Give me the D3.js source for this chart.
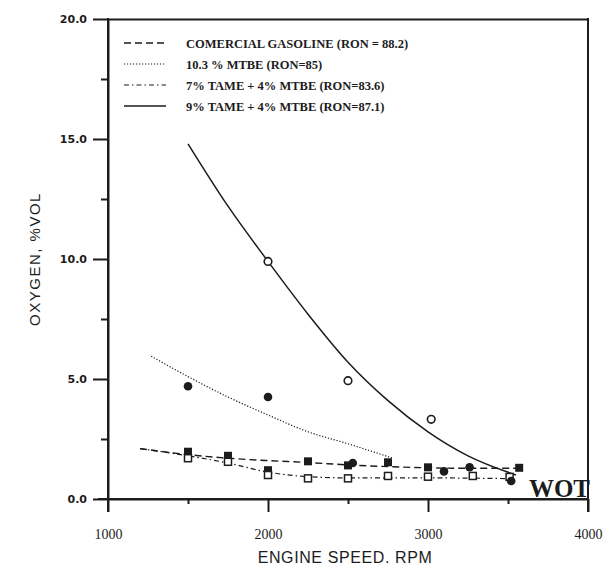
<!DOCTYPE html>
<html>
<head>
<meta charset="utf-8">
<script src="https://cdn.jsdelivr.net/npm/d3@7"></script>
<style>
  html, body { margin: 0; padding: 0; background: #fff; }
  svg { display: block; }
</style>
</head>
<body>
<div id="chart"></div>
<script>
// Exhaust oxygen vs engine speed at wide-open throttle, four fuel blends.

const rpmTicks = [1000, 2000, 3000, 4000];
const rpmMinorTicks = [1500, 2500, 3500];
const oxygenTicks = [0, 5, 10, 15, 20];
const oxygenMinorTicks = [2.5, 7.5, 12.5, 17.5];

const seriesNames = [
  "COMERCIAL GASOLINE (RON = 88.2)",
  "10.3 % MTBE (RON=85)",
  "7% TAME + 4% MTBE (RON=83.6)",
  "9% TAME + 4% MTBE (RON=87.1)"
];

// measured points [rpm, oxygen %vol]
const gasolinePts = [[1500, 1.97], [1750, 1.8], [2000, 1.2], [2250, 1.57], [2500, 1.4], [2750, 1.53], [3000, 1.32], [3570, 1.3]];
const mtbePts = [[1500, 4.7], [2000, 4.25], [2530, 1.5], [3100, 1.15], [3260, 1.32], [3520, 0.75]];
const tame7Pts = [[1500, 1.7], [1750, 1.55], [2000, 1.0], [2250, 0.86], [2500, 0.86], [2750, 0.96], [3000, 0.93], [3280, 0.96], [3510, 0.92]];
const tame9Pts = [[2000, 9.9], [2500, 4.93], [3020, 3.32]];

// fitted trend curves [rpm, oxygen %vol]
const gasolineFit = [[1200, 2.1], [1500, 1.85], [1750, 1.7], [2000, 1.6], [2250, 1.52], [2500, 1.42], [2750, 1.35], [3000, 1.3], [3250, 1.28], [3570, 1.28]];
const mtbeFit = [[1270, 5.95], [1500, 5.1], [1750, 4.25], [2000, 3.5], [2250, 2.8], [2500, 2.3], [2780, 1.7]];
const tame7Fit = [[1200, 2.1], [1500, 1.8], [1750, 1.5], [2000, 1.12], [2250, 0.93], [2500, 0.88], [2750, 0.88], [3000, 0.88], [3250, 0.87], [3500, 0.85]];
const tame9Fit = [[1500, 14.8], [1750, 12.2], [2000, 9.9], [2250, 7.7], [2500, 5.7], [2750, 4.1], [3000, 2.8], [3250, 1.8], [3550, 1.0]];

const W = 607, H = 569;
const ink = "#1c1c1c";
const axisW = 2;
const plotL = 108, plotR = 588, plotT = 19, plotB = 499;

const x = d3.scaleLinear().domain([1000, 4000]).range([plotL, plotR]);
const y = d3.scaleLinear().domain([0, 20]).range([plotB, plotT]);

const svg = d3.select("#chart").append("svg")
  .attr("width", W).attr("height", H);

svg.append("rect").attr("width", W).attr("height", H).attr("fill", "#fff");

// line styles per series
const dashes = ["7,4", "1.2,1.8", "5,3,1.5,3", null];
const widths = [1.4, 1.2, 1.2, 1.5];
const fits = [gasolineFit, mtbeFit, tame7Fit, tame9Fit];

const curve = d3.line()
  .x(d => x(d[0])).y(d => y(d[1]))
  .curve(d3.curveMonotoneX);

fits.forEach((f, i) => {
  svg.append("path")
    .attr("d", curve(f))
    .attr("fill", "none")
    .attr("stroke", ink)
    .attr("stroke-width", widths[i])
    .attr("stroke-dasharray", dashes[i]);
});

// markers
const marks = svg.append("g");
marks.selectAll("rect.fsq").data(gasolinePts).join("rect")
  .attr("class", "fsq")
  .attr("x", d => x(d[0]) - 4).attr("y", d => y(d[1]) - 4)
  .attr("width", 8).attr("height", 8).attr("fill", ink);
marks.selectAll("rect.osq").data(tame7Pts).join("rect")
  .attr("class", "osq")
  .attr("x", d => x(d[0]) - 3.5).attr("y", d => y(d[1]) - 3.5)
  .attr("width", 7).attr("height", 7)
  .attr("fill", "#fff").attr("stroke", ink).attr("stroke-width", 1.5);
marks.selectAll("circle.fci").data(mtbePts).join("circle")
  .attr("class", "fci")
  .attr("cx", d => x(d[0])).attr("cy", d => y(d[1])).attr("r", 4.3)
  .attr("fill", ink);
marks.selectAll("circle.oci").data(tame9Pts).join("circle")
  .attr("class", "oci")
  .attr("cx", d => x(d[0])).attr("cy", d => y(d[1])).attr("r", 3.8)
  .attr("fill", "#fff").attr("stroke", ink).attr("stroke-width", 1.6);

// y axis (major ticks with labels, minor ticks without)
const yMajor = svg.append("g")
  .attr("transform", `translate(${plotL},0)`)
  .call(d3.axisLeft(y).tickValues(oxygenTicks).tickSize(15).tickSizeOuter(0)
    .tickPadding(6).tickFormat(d3.format(".1f")));
const yMinor = svg.append("g")
  .attr("transform", `translate(${plotL},0)`)
  .call(d3.axisLeft(y).tickValues(oxygenMinorTicks).tickSize(7).tickSizeOuter(0)
    .tickFormat(""));

// x axis
const xMajor = svg.append("g")
  .attr("transform", `translate(0,${plotB})`)
  .call(d3.axisBottom(x).tickValues(rpmTicks).tickSize(13).tickSizeOuter(0)
    .tickPadding(17).tickFormat(d3.format("d")));
const xMinor = svg.append("g")
  .attr("transform", `translate(0,${plotB})`)
  .call(d3.axisBottom(x).tickValues(rpmMinorTicks).tickSize(5).tickSizeOuter(0)
    .tickFormat(""));

// top and right borders from the same scales
const xTop = svg.append("g")
  .attr("transform", `translate(0,${plotT})`)
  .call(d3.axisTop(x).tickValues([]).tickSizeOuter(0));
const yRight = svg.append("g")
  .attr("transform", `translate(${plotR},0)`)
  .call(d3.axisRight(y).tickValues([]).tickSizeOuter(0));

[yMajor, yMinor, xMajor, xMinor, xTop, yRight].forEach(a => {
  a.select(".domain").attr("stroke", ink).attr("stroke-width", axisW);
  a.selectAll(".tick line").attr("stroke", ink).attr("stroke-width", axisW);
});
// axis lines run a little past the lower-left corner
xMajor.select(".domain").attr("d", `M${plotL - 10},0H${plotR}`);
yMajor.select(".domain").attr("d", `M0,${plotT - 1}V${plotB + 13}`);
yRight.select(".domain").attr("d", `M0,${plotT - 1}V${plotB + 13}`);

yMajor.selectAll(".tick text")
  .attr("font-family", "DejaVu Sans, sans-serif")
  .attr("font-size", 11).attr("font-weight", "bold")
  .attr("fill", ink);
xMajor.selectAll(".tick text")
  .attr("font-family", "Liberation Serif, serif")
  .attr("font-size", 14)
  .attr("fill", ink);

// axis titles
svg.append("text")
  .attr("x", 345).attr("y", 563)
  .attr("text-anchor", "middle")
  .attr("font-family", "Liberation Sans, sans-serif")
  .attr("font-size", 16)
  .attr("letter-spacing", 0.6)
  .attr("fill", ink)
  .text("ENGINE SPEED.  RPM");

svg.append("text")
  .attr("transform", "translate(40,259) rotate(-90)")
  .attr("text-anchor", "middle")
  .attr("font-family", "Liberation Sans, sans-serif")
  .attr("font-size", 15)
  .attr("letter-spacing", 1.5)
  .attr("fill", ink)
  .text("OXYGEN,  %VOL");

// legend
const legend = svg.append("g");
seriesNames.forEach((name, i) => {
  const ly = 43 + i * 21;
  legend.append("path")
    .attr("d", d3.line()([[124, ly], [166, ly]]))
    .attr("fill", "none")
    .attr("stroke", ink).attr("stroke-width", widths[i])
    .attr("stroke-dasharray", dashes[i]);
  legend.append("text")
    .attr("x", 186).attr("y", ly + 4.5)
    .attr("font-family", "Liberation Serif, serif")
    .attr("font-size", 12.5).attr("font-weight", "bold")
    .attr("fill", ink)
    .text(name);
});

// operating condition tag
svg.append("text")
  .attr("x", 590).attr("y", 497)
  .attr("text-anchor", "end")
  .attr("font-family", "Liberation Serif, serif")
  .attr("font-size", 25).attr("font-weight", "bold")
  .attr("fill", ink)
  .text("WOT");
</script>
</body>
</html>
